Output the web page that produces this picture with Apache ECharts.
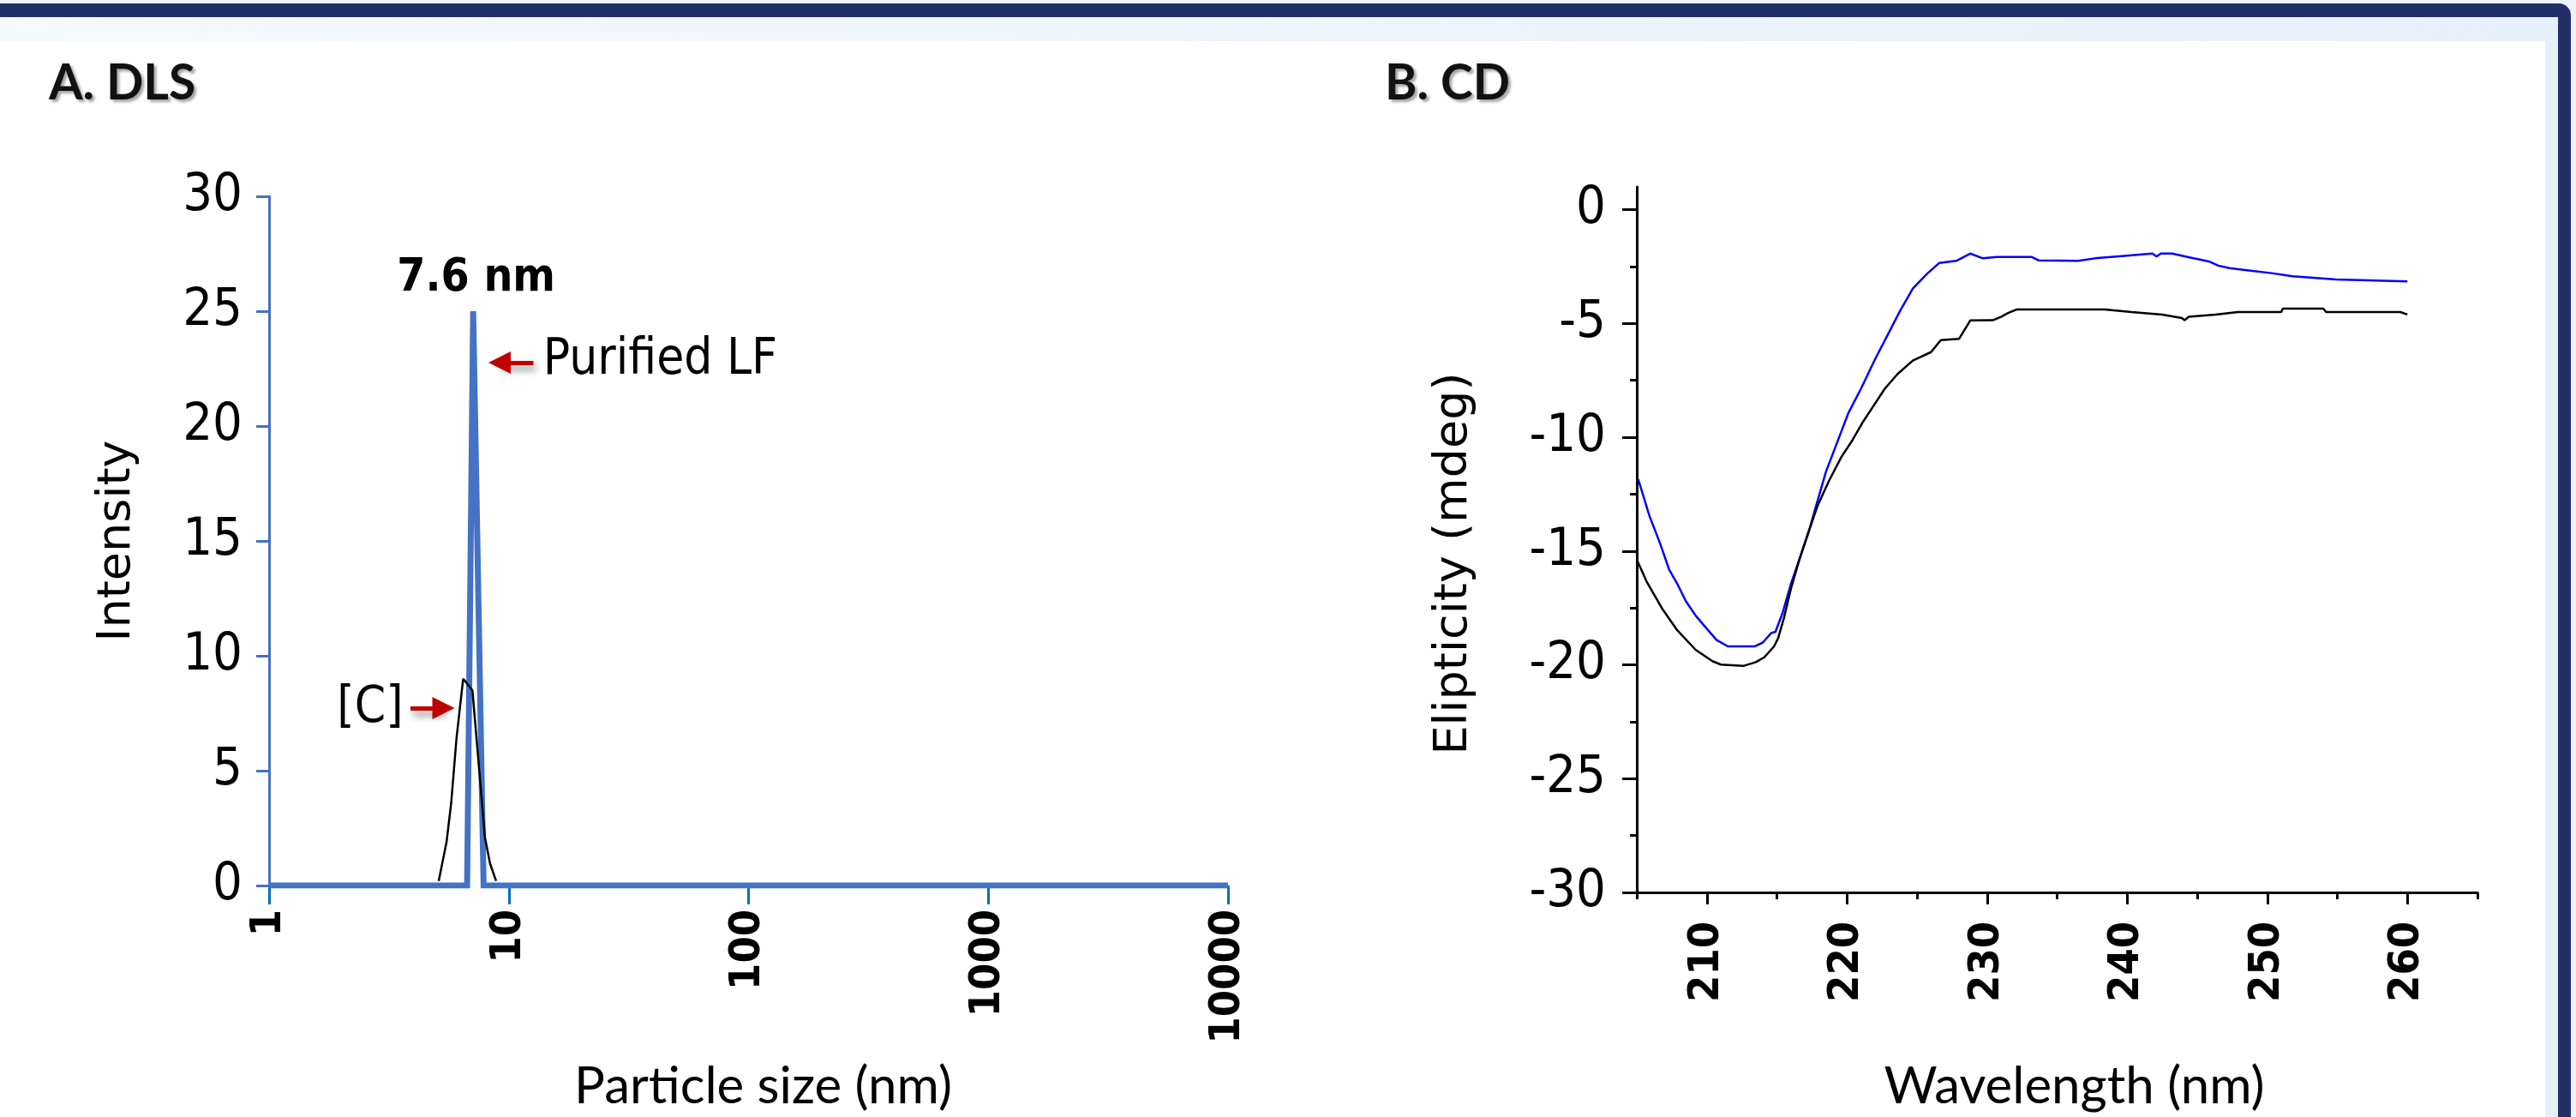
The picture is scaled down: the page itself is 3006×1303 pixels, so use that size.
<!DOCTYPE html>
<html><head><meta charset="utf-8">
<script src="https://cdn.jsdelivr.net/npm/echarts@6/dist/echarts.min.js"></script>
<style>html,body{margin:0;padding:0;background:#fff;}#c{width:3006px;height:1303px;}</style>
</head><body><div id="c"></div>
<script>
// ---------- DLS (panel A) ----------
const dlsLfSize = [1, 6.7, 7.1, 7.85, 10000];
const dlsLfIntensity = [0, 0, 25, 0, 0];
const dlsCSize = [5.1, 5.5, 5.75, 6.05, 6.45, 7.05, 7.95, 8.35, 8.85];
const dlsCIntensity = [0.2, 1.9, 3.6, 6.4, 9.0, 8.5, 2.1, 0.96, 0.2];
const dlsXTicks = [1, 10, 100, 1000, 10000];
const dlsYTicks = [0, 5, 10, 15, 20, 25, 30];

// ---------- CD (panel B) ----------
const cdBlueWl = [205.1, 205.9, 206.7, 207.3, 207.9, 208.5, 209.2, 209.8, 210.7, 211.5, 213.4, 214.0, 214.6, 214.9, 215.4, 216.0, 216.6, 217.3, 217.9, 218.5, 219.3, 220.1, 221.0, 222.0, 222.9, 223.8, 224.7, 225.7, 226.6, 227.8, 228.8, 229.7, 230.7, 233.2, 233.7, 236.5, 237.7, 239.8, 241.8, 242.1, 242.4, 243.2, 244.3, 245.1, 245.9, 246.5, 247.3, 248.8, 250.3, 251.8, 254.9, 260.0];
const cdBlue = [-11.84, -13.45, -14.73, -15.8, -16.45, -17.2, -17.84, -18.27, -18.91, -19.19, -19.19, -19.02, -18.6, -18.55, -17.73, -16.45, -15.38, -14.09, -12.8, -11.52, -10.23, -8.94, -7.87, -6.58, -5.51, -4.44, -3.47, -2.83, -2.34, -2.25, -1.93, -2.14, -2.08, -2.08, -2.23, -2.25, -2.14, -2.03, -1.93, -2.06, -1.93, -1.93, -2.08, -2.18, -2.29, -2.46, -2.57, -2.68, -2.79, -2.93, -3.07, -3.15];
const cdBlackWl = [205.0, 205.7, 206.8, 207.9, 209.2, 210.4, 211.0, 212.6, 213.5, 214.1, 214.8, 215.1, 215.5, 216.0, 216.6, 217.3, 217.9, 218.7, 219.6, 220.4, 221.1, 221.9, 222.7, 223.6, 224.7, 226.0, 226.7, 228.0, 228.8, 230.4, 231.0, 231.5, 232.1, 238.4, 240.3, 242.5, 243.9, 244.1, 244.4, 246.3, 247.9, 251.0, 251.1, 254.0, 254.2, 259.5, 260.0];
const cdBlack = [-15.38, -16.34, -17.52, -18.49, -19.34, -19.84, -19.99, -20.05, -19.88, -19.67, -19.19, -18.81, -17.95, -16.66, -15.38, -14.09, -13.02, -11.94, -10.87, -10.12, -9.37, -8.62, -7.87, -7.23, -6.63, -6.26, -5.73, -5.68, -4.87, -4.86, -4.71, -4.54, -4.39, -4.39, -4.50, -4.61, -4.76, -4.86, -4.71, -4.61, -4.50, -4.50, -4.35, -4.35, -4.50, -4.50, -4.61];
const cdXTicks = [210, 220, 230, 240, 250, 260];
const cdXMinorTicks = [205, 215, 225, 235, 245, 255, 265];
const cdYTicks = [0, -5, -10, -15, -20, -25, -30];
const cdYMinorTicks = [-2.5, -7.5, -12.5, -17.5, -22.5, -27.5];

const zip = (a, b) => a.map((v, i) => [v, b[i]]);

const COND = '"DejaVu Sans Condensed", "DejaVu Sans", sans-serif';
const SANS = '"DejaVu Sans", sans-serif';
const CAL = 'Lato, "Open Sans", sans-serif';

const chart = echarts.init(document.getElementById('c'), null, {renderer: 'canvas'});

const titleStyle = {
  fontFamily: CAL, fontWeight: 'bold', fontSize: 57, color: '#111',
  textShadowColor: 'rgba(0,0,0,0.35)', textShadowBlur: 3, textShadowOffsetX: 3, textShadowOffsetY: 3
};
const arrowLine = {
  color: '#c00000', width: 5, type: 'solid', opacity: 1,
  shadowColor: 'rgba(0,0,0,0.45)', shadowBlur: 8, shadowOffsetX: 3, shadowOffsetY: 6
};

const option = {
  backgroundColor: '#ffffff',
  animation: false,
  graphic: {
    elements: [
      {type: 'rect', z: -10, shape: {x: 0, y: 0, width: 3006, height: 1303}, style: {fill: '#eef3fa'}},
      {type: 'rect', z: -9, shape: {x: 0, y: 4, width: 3000, height: 1299, r: [0, 14, 0, 0]}, style: {fill: '#223068'}},
      {type: 'rect', z: -8, shape: {x: 0, y: 20, width: 2985, height: 1283},
        style: {fill: new echarts.graphic.LinearGradient(0, 0, 1, 0, [{offset: 0, color: '#f6f9fe'}, {offset: 1, color: '#e6f0fb'}])}},
      {type: 'rect', z: -7, shape: {x: 0, y: 48, width: 2970, height: 1255}, style: {fill: '#ffffff'}}
    ]
  },
  title: [
    {text: 'A. DLS', left: 57, top: 69, padding: 0, textStyle: titleStyle},
    {text: 'B. CD', left: 1616, top: 69, padding: 0, textStyle: titleStyle}
  ],
  grid: [
    {left: 314, top: 229, width: 1119, height: 812},
    {left: 1910, top: 218, width: 981, height: 830}
  ],
  xAxis: [
    {
      type: 'log', logBase: 10, gridIndex: 0, min: 1, max: 10000, position: 'bottom',
      name: 'Particle size (nm)', nameLocation: 'middle', nameGap: 205,
      nameTextStyle: {fontFamily: CAL, fontSize: 60, color: '#000', padding: [0, 0, 0, 34]},
      axisLine: {show: false},
      axisTick: {show: true, inside: false, length: 22, lineStyle: {color: '#0070c0', width: 3}},
      axisLabel: {rotate: 90, margin: 28, fontFamily: COND, fontWeight: 'bold', fontSize: 50, color: '#000',
        formatter: v => { const t = dlsXTicks.find(k => Math.abs(k - v) < 1e-6 * k); return t ? String(t) : ''; }},
      splitLine: {show: false}, minorTick: {show: false}, minorSplitLine: {show: false}
    },
    {
      type: 'value', gridIndex: 1, min: 205, max: 265, position: 'bottom',
      name: 'Wavelength (nm)', nameLocation: 'middle', nameGap: 197,
      nameTextStyle: {fontFamily: CAL, fontSize: 60, color: '#000', padding: [0, 0, 0, 40]},
      axisLine: {show: true, onZero: false, lineStyle: {color: '#000', width: 3}},
      axisTick: {show: true, inside: false, length: 14, customValues: cdXTicks, lineStyle: {color: '#000', width: 3}},
      axisLabel: {rotate: 90, margin: 34, customValues: cdXTicks, fontFamily: COND, fontWeight: 'bold', fontSize: 50, color: '#000',
        formatter: v => cdXTicks.includes(v) ? String(v) : ''},
      splitLine: {show: false}
    },
    {
      type: 'value', gridIndex: 1, min: 205, max: 265, position: 'bottom',
      axisLine: {show: false, onZero: false},
      axisTick: {show: true, inside: false, length: 8, customValues: cdXMinorTicks, lineStyle: {color: '#000', width: 3}},
      axisLabel: {show: false},
      splitLine: {show: false}
    }
  ],
  yAxis: [
    {
      type: 'value', gridIndex: 0, min: 0, max: 30, interval: 5, position: 'left',
      name: 'Intensity', nameLocation: 'middle', nameGap: 150,
      nameTextStyle: {fontFamily: SANS, fontSize: 54, color: '#000'},
      axisLine: {show: true, onZero: false, lineStyle: {color: '#4472c4', width: 3}},
      axisTick: {show: true, inside: false, length: 15, customValues: dlsYTicks, lineStyle: {color: '#4472c4', width: 3}},
      axisLabel: {margin: 31, customValues: dlsYTicks, fontFamily: COND, fontSize: 61, color: '#000'},
      splitLine: {show: false}
    },
    {
      type: 'value', gridIndex: 1, min: -30, max: 1, position: 'left',
      name: 'Elipticity (mdeg)', nameLocation: 'middle', nameGap: 186,
      nameTextStyle: {fontFamily: SANS, fontSize: 54, color: '#000', padding: [0, 56, 0, 0]},
      axisLine: {show: true, onZero: false, lineStyle: {color: '#000', width: 3}},
      axisTick: {show: true, inside: false, length: 17, customValues: cdYTicks, lineStyle: {color: '#000', width: 3}},
      axisLabel: {margin: 36, customValues: cdYTicks, fontFamily: COND, fontSize: 61, color: '#000',
        formatter: v => cdYTicks.includes(v) ? String(v) : ''},
      splitLine: {show: false}
    },
    {
      type: 'value', gridIndex: 1, min: -30, max: 1, position: 'left',
      axisLine: {show: false, onZero: false},
      axisTick: {show: true, inside: false, length: 8, customValues: cdYMinorTicks, lineStyle: {color: '#000', width: 3}},
      axisLabel: {show: false},
      splitLine: {show: false}
    }
  ],
  series: [
    {
      name: 'Purified LF', type: 'line', xAxisIndex: 0, yAxisIndex: 0, z: 3,
      data: zip(dlsLfSize, dlsLfIntensity), showSymbol: false, symbol: 'none',
      lineStyle: {color: '#4472c4', width: 7, join: 'miter'},
      markPoint: {
        symbol: 'circle', symbolSize: 1, itemStyle: {color: 'rgba(0,0,0,0)'}, silent: true,
        data: [
          {coord: [7.31, 26.4], label: {show: true, position: 'inside', formatter: '7.6 nm', fontFamily: COND, fontWeight: 'bold', fontSize: 53, color: '#000'}},
          {coord: [13.85, 22.83], label: {show: true, position: 'right', distance: 0, formatter: 'Purified LF', fontFamily: COND, fontSize: 58, color: '#000'}},
          {coord: [2.64, 7.68], label: {show: true, position: 'inside', formatter: '[C]', fontFamily: COND, fontSize: 58, color: '#000'}}
        ]
      },
      markLine: {
        silent: true, symbol: ['none', 'triangle'], symbolSize: 26,
        lineStyle: arrowLine, label: {show: false}, emphasis: {disabled: true},
        data: [
          [{coord: [3.89, 7.72]}, {coord: [5.34, 7.72]}],
          [{coord: [12.66, 22.76]}, {coord: [9.15, 22.76]}]
        ]
      }
    },
    {
      name: '[C]', type: 'line', xAxisIndex: 0, yAxisIndex: 0, z: 4,
      data: zip(dlsCSize, dlsCIntensity), showSymbol: false, symbol: 'none',
      lineStyle: {color: '#000', width: 2.5}
    },
    {
      name: 'Purified LF (CD)', type: 'line', xAxisIndex: 1, yAxisIndex: 1,
      data: zip(cdBlueWl, cdBlue), showSymbol: false, symbol: 'none',
      lineStyle: {color: '#0000ff', width: 2.5}
    },
    {
      name: '[C] (CD)', type: 'line', xAxisIndex: 1, yAxisIndex: 1,
      data: zip(cdBlackWl, cdBlack), showSymbol: false, symbol: 'none',
      lineStyle: {color: '#000', width: 2.5}
    }
  ]
};
chart.setOption(option);
</script>
</body></html>
